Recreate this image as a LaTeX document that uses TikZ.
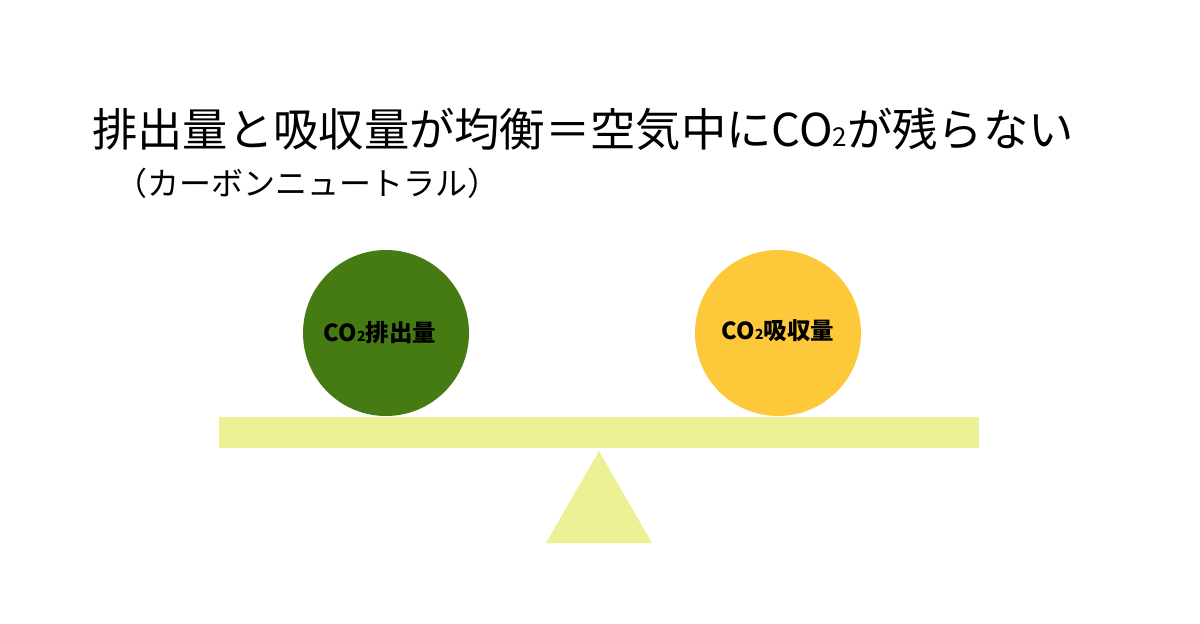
\documentclass[tikz,border=0pt]{standalone}
\usepackage{fontspec}
\setmainfont{Noto Sans CJK JP}
\definecolor{emitgreen}{HTML}{457B12}
\definecolor{absorbyellow}{HTML}{FDC93A}
\definecolor{beamyellow}{HTML}{EDF195}
\begin{document}
\begin{tikzpicture}[x=1pt,y=-1pt,
  ball/.style={circle,minimum size=166pt,inner sep=0pt},
  balllabel/.style={font=\fontsize{23.5}{26}\selectfont\bfseries,text=black}]
\useasboundingbox[fill=white] (0,0) rectangle (1200,624);
\node[anchor=base west,inner sep=0pt,font=\fontsize{45.3}{50}\selectfont] (title) at (92,146)
  {排出量と吸収量が均衡＝空気中にCO{\fontsize{26}{28}\selectfont 2}が残らない};
\node[anchor=base west,inner sep=0pt,font=\fontsize{32}{34}\selectfont] (subtitle) at (115,195)
  {（カーボンニュートラル）};
\fill[beamyellow] (219,417) rectangle (979,448);
\fill[beamyellow] (599,451) -- (652,543) -- (546,543) -- cycle;
\node[ball,fill=emitgreen] (emit) at (386,333) {};
\node[ball,fill=absorbyellow] (absorb) at (778,333) {};
\node[balllabel] (emitlabel) at (380,333) {CO{\fontsize{14}{15}\selectfont 2}排出量};
\node[balllabel] (absorblabel) at (778,331) {CO{\fontsize{14}{15}\selectfont 2}吸収量};
\end{tikzpicture}
\end{document}
